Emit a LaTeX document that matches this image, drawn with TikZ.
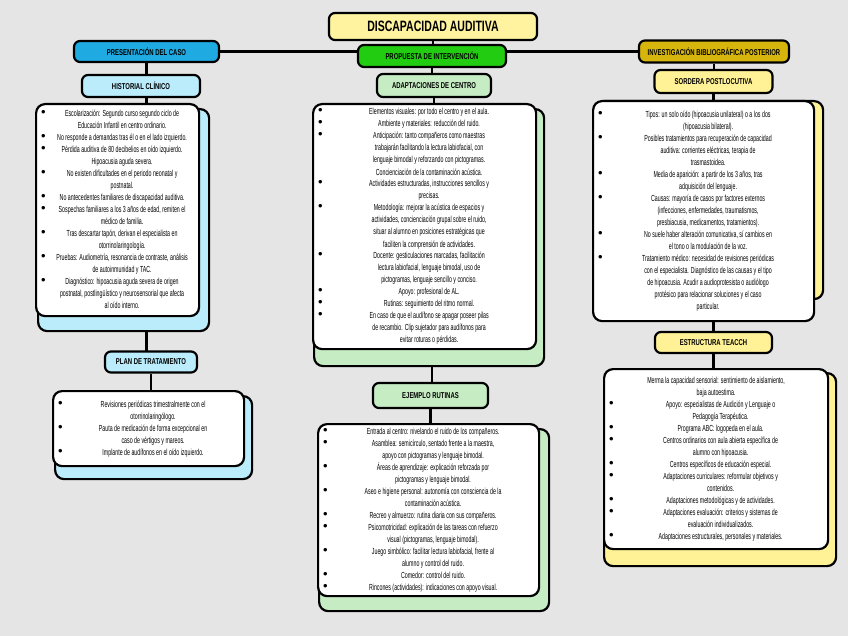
\documentclass[tikz,border=0pt]{standalone}
\usepackage{fontspec}
\usepackage{array}
\setmainfont{Liberation Sans}
\newfontfamily\handfont[FakeStretch=0.7]{Liberation Sans}
\newfontfamily\bodyfont[FakeStretch=0.6]{Liberation Sans}
\usetikzlibrary{positioning,calc}
\definecolor{mapbg}{RGB}{229,229,229}
\definecolor{mapyellow}{RGB}{255,243,160}
\definecolor{mapcyan}{RGB}{31,170,226}
\definecolor{mapcyanlt}{RGB}{186,236,252}
\definecolor{mapgreen}{RGB}{34,204,17}
\definecolor{mapgreenlt}{RGB}{198,236,196}
\definecolor{mapgold}{RGB}{214,182,12}
\definecolor{mapyellowlt}{RGB}{255,241,150}
\newcolumntype{C}[1]{>{\centering\arraybackslash}p{#1}}
\newcommand{\blt}{{\normalfont\fontsize{13}{12}\selectfont\textbullet}}
\pgfdeclarelayer{bg}
\pgfdeclarelayer{lines}
\pgfsetlayers{bg,lines,main}

\begin{document}
\begin{tikzpicture}[x=1pt,y=-1pt,
    every node/.style={font=\bodyfont\fontsize{8.8}{12}\selectfont},
    headbox/.style={draw,rounded corners=6pt,line width=2.2pt,inner sep=1pt,font=\handfont\bfseries\fontsize{8.5}{9}\selectfont},
    card/.style={draw,fill=white,rounded corners=9pt,line width=2.2pt,anchor=north west,inner xsep=5pt,inner ysep=2pt},
    cardback/.style={draw,rounded corners=9pt,line width=2.2pt,anchor=north west},
    linkline/.style={line width=2.6pt}]
      \useasboundingbox (0,0) rectangle (848,636);
      \begin{pgfonlayer}{bg}
        \fill[mapbg] (0,0) rectangle (848,636);
      \end{pgfonlayer}

      \node[headbox,fill=mapyellow,minimum width=208pt,minimum height=27pt,
            font=\handfont\bfseries\fontsize{15}{16}\selectfont] (title) at (433,26.5) {DISCAPACIDAD AUDITIVA};
      \node[headbox,fill=mapcyan,minimum width=145pt,minimum height=21pt] (pres) at (146.5,51.5) {PRESENTACIÓN DEL CASO};
      \node[headbox,fill=mapgreen,minimum width=148pt,minimum height=22pt] (prop) at (432,56) {PROPUESTA DE INTERVENCIÓN};
      \node[headbox,fill=mapgold,minimum width=150pt,minimum height=22pt] (inv) at (714,51.5) {INVESTIGACIÓN BIBLIOGRÁFICA POSTERIOR};
      \node[headbox,fill=mapcyanlt,minimum width=118pt,minimum height=22pt] (hist) at (141,86) {HISTORIAL CLÍNICO};
      \node[headbox,fill=mapgreenlt,minimum width=114pt,minimum height=23pt] (adap) at (434,85.5) {ADAPTACIONES DE CENTRO};
      \node[headbox,fill=mapyellowlt,minimum width=118pt,minimum height=23pt] (sord) at (713.5,81.5) {SORDERA POSTLOCUTIVA};
      \node[headbox,fill=mapcyanlt,minimum width=92pt,minimum height=21pt] (plan) at (151,362) {PLAN DE TRATAMIENTO};
      \node[headbox,fill=mapgreenlt,minimum width=115pt,minimum height=25pt] (ejem) at (430.5,395.5) {EJEMPLO RUTINAS};
      \node[headbox,fill=mapyellowlt,minimum width=117pt,minimum height=21pt] (teacch) at (713.5,342.5) {ESTRUCTURA TEACCH};

      \node[cardback,fill=mapcyanlt,minimum width=171pt,minimum height=222pt] (histsh) at (37,108) {};
      \node[card,minimum width=163pt,minimum height=212pt] (histbox) at (35,103) {%
        \begin{tabular}{@{}p{9pt}@{}C{144pt}@{}}
        \blt & Escolarización: Segundo curso segundo ciclo de\par Educación Infantil en centro ordinario.\\
        \blt & No responde a demandas tras él o en el lado izquierdo.\\
        \blt & Pérdida auditiva de 80 decibelios en oído izquierdo.\par Hipoacusia aguda severa.\\
        \blt & No existen dificultades en el periodo neonatal y\par postnatal.\\
        \blt & No antecedentes familiares de discapacidad auditiva.\\
        \blt & Sospechas familiares a los 3 años de edad, remiten el\par médico de familia.\\
        \blt & Tras descartar tapón, derivan el especialista en\par otorrinolaringología.\\
        \blt & Pruebas: Audiometría, resonancia de contraste, análisis\par de autoinmunidad y TAC.\\
        \blt & Diagnóstico: hipoacusia aguda severa de origen\par postnatal, postlingüístico y neurosensorial que afecta\par al oído interno.
        \end{tabular}};

      \node[cardback,fill=mapcyanlt,minimum width=197pt,minimum height=83pt] (plansh) at (54,395) {};
      \node[card,minimum width=191pt,minimum height=75pt] (planbox) at (52,390) {%
        \begin{tabular}{@{}p{9pt}@{}C{172pt}@{}}
        \blt & Revisiones periódicas trimestralmente con el\par otorrinolaringólogo.\\
        \blt & Pauta de medicación de forma excepcional en\par caso de vértigos y mareos.\\
        \blt & Implante de audífonos en el oído izquierdo.
        \end{tabular}};

      \node[cardback,fill=mapgreenlt,minimum width=230pt,minimum height=257pt] (adapsh) at (313,108) {};
      \node[card,minimum width=223pt,minimum height=245pt] (adapbox) at (312,103) {%
        \begin{tabular}{@{}p{9pt}@{}C{204pt}@{}}
        \blt & Elementos visuales: por todo el centro y en el aula.\\
        \blt & Ambiente y materiales: reducción del ruido.\\
        \blt & Anticipación: tanto compañeros como maestras\par trabajarán facilitando la lectura labiofacial, con\par lenguaje bimodal y reforzando con pictogramas.\par Concienciación de la contaminación acústica.\\
        \blt & Actividades estructuradas, instrucciones sencillos y\par precisas.\\
        \blt & Metodología: mejorar la acústica de espacios y\par actividades, concienciación grupal sobre el ruido,\par situar al alumno en posiciones estratégicas que\par faciliten la comprensión de actividades.\\
        \blt & Docente: gesticulaciones marcadas, facilitación\par lectura labiofacial, lenguaje bimodal, uso de\par pictogramas, lenguaje sencillo y conciso.\\
        \blt & Apoyo: profesional de AL.\\
        \blt & Rutinas: seguimiento del ritmo normal.\\
        \blt & En caso de que el audífono se apagar poseer pilas\par de recambio. Clip sujetador para audífonos para\par evitar roturas o pérdidas.
        \end{tabular}};

      \node[cardback,fill=mapgreenlt,minimum width=230pt,minimum height=182pt] (ejemsh) at (318,428) {};
      \node[card,minimum width=221pt,minimum height=172pt] (ejembox) at (317,423) {%
        \begin{tabular}{@{}p{9pt}@{}C{202pt}@{}}
        \blt & Entrada al centro: nivelando el ruido de los compañeros.\\
        \blt & Asamblea: semicírculo, sentado frente a la maestra,\par apoyo con pictogramas y lenguaje bimodal.\\
        \blt & Áreas de aprendizaje: explicación reforzada por\par pictogramas y lenguaje bimodal.\\
        \blt & Aseo e higiene personal: autonomía con consciencia de la\par contaminación acústica.\\
        \blt & Recreo y almuerzo: rutina diaria con sus compañeros.\\
        \blt & Psicomotricidad: explicación de las tareas con refuerzo\par visual (pictogramas, lenguaje bimodal).\\
        \blt & Juego simbólico: facilitar lectura labiofacial, frente al\par alumno y control del ruido.\\
        \blt & Comedor: control del ruido.\\
        \blt & Rincones (actividades): indicaciones con apoyo visual.
        \end{tabular}};

      \node[cardback,fill=mapyellowlt,minimum width=228pt,minimum height=198pt] (sordsh) at (594,100) {};
      \node[card,minimum width=221pt,minimum height=220pt] (sordbox) at (592,100) {%
        \begin{tabular}{@{}p{9pt}@{}C{202pt}@{}}
        \blt & Tipos: un solo oído (hipoacusia unilateral) o a los dos\par (hipoacusia bilateral).\\
        \blt & Posibles tratamientos para recuperación de capacidad\par auditiva: corrientes eléctricas, terapia de\par trasmastoidea.\\
        \blt & Media de aparición: a partir de los 3 años, tras\par adquisición del lenguaje.\\
        \blt & Causas: mayoría de casos por factores externos\par (infecciones, enfermedades, traumatismos,\par presbiacusia, medicamentos, tratamientos).\\
        \blt & No suele haber alteración comunicativa, sí cambios en\par el tono o la modulación de la voz.\\
        \blt & Tratamiento médico: necesidad de revisiones periódicas\par con el especialista. Diagnóstico de las causas y el tipo\par de hipoacusia. Acudir a audioprotesista o audiólogo\par protésico para relacionar soluciones y el caso\par particular.
        \end{tabular}};

      \node[cardback,fill=mapyellowlt,minimum width=232pt,minimum height=193pt] (teacsh) at (603,372) {};
      \node[card,minimum width=224pt,minimum height=180pt] (teacbox) at (603,368) {%
        \begin{tabular}{@{}p{9pt}@{}C{205pt}@{}}
        \multicolumn{2}{@{}C{214pt}@{}}{Merma la capacidad sensorial: sentimiento de aislamiento,\par baja autoestima.}\\
        \blt & Apoyo: especialistas de Audición y Lenguaje o\par Pedagogía Terapéutica.\\
        \blt & Programa ABC: logopeda en el aula.\\
        \blt & Centros ordinarios con aula abierta específica de\par alumno con hipoacusia.\\
        \blt & Centros específicos de educación especial.\\
        \blt & Adaptaciones curriculares: reformular objetivos y\par contenidos.\\
        \blt & Adaptaciones metodológicas y de actividades.\\
        \blt & Adaptaciones evaluación: criterios y sistemas de\par evaluación individualizados.\\
        \blt & Adaptaciones estructurales, personales y materiales.
        \end{tabular}};

      \begin{pgfonlayer}{lines}
        \draw[linkline] (title) -- (title |- prop);
        \draw[linkline] (pres) -- (inv);
        \draw[linkline] (pres) -- (pres |- hist);
        \draw[linkline] (pres |- hist) -- (pres |- histbox);
        \draw[linkline] (pres |- histsh) -- (pres |- plan);
        \draw[linkline] (plan) -- (plan |- planbox);
        \draw[linkline] (prop) -- (prop |- adap);
        \draw[linkline] (adap) -- (adap |- adapbox);
        \draw[linkline] (prop |- adapsh) -- (prop |- ejem);
        \draw[linkline] (ejem) -- (ejem |- ejembox);
        \draw[linkline] (inv) -- (inv |- sord);
        \draw[linkline] (sord) -- (sord |- sordbox);
        \draw[linkline] (sord |- sordbox) -- (sord |- teacch);
        \draw[linkline] (teacch) -- (teacch |- teacbox);
      \end{pgfonlayer}
    \end{tikzpicture}
\end{document}
